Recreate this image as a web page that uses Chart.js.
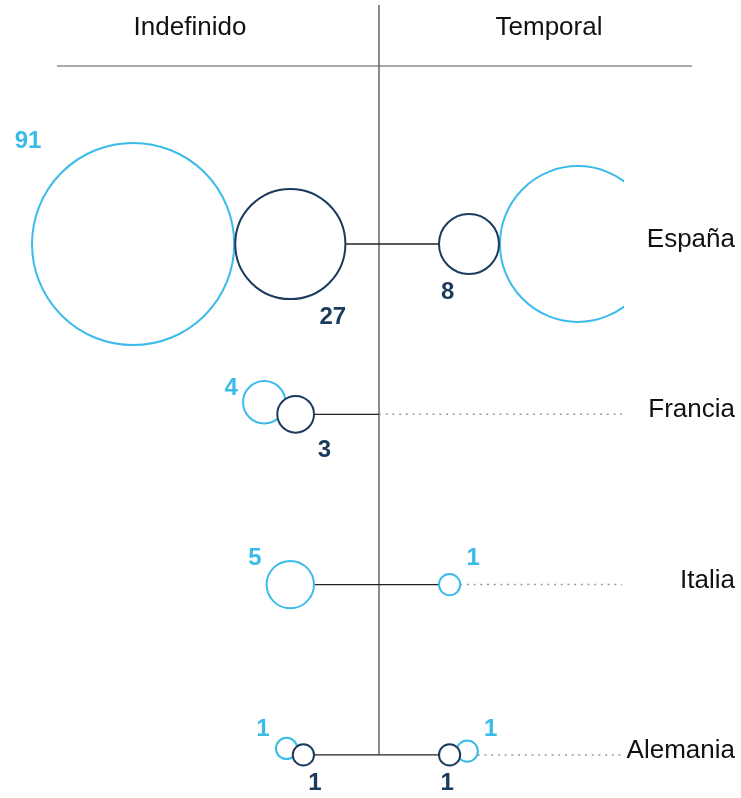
<!DOCTYPE html>
<html>
<head>
<meta charset="utf-8">
<script src="https://cdn.jsdelivr.net/npm/chart.js@4.4.1/dist/chart.umd.min.js"></script>
<style>
  html, body { margin: 0; padding: 0; background: #fff; }
  #wrap { width: 741px; height: 798px; }
</style>
</head>
<body>
<div id="wrap"><canvas id="chart" width="741" height="798"></canvas></div>
<script>
// ===============================
// Data
// ===============================
const paises = ["España", "Francia", "Italia", "Alemania"];
const columnas = ["Indefinido", "Temporal"];
const indefinidoClaro = [91, 4, 5, 1];
const indefinidoOscuro = [27, 3, 0, 1];
const temporalClaro = [54, 0, 1, 1];
const temporalOscuro = [8, 0, 0, 1];

// ===============================
// Layout / style
// ===============================
const CLARO = "#3bbbea";
const OSCURO = "#1b3a5c";
const W = 741, H = 798;
const CENTRO = 379;      // divider position
const FILA0 = 244;       // first row
const PASO = 170.3;      // row spacing
const K = 10.6;          // bubble radius per sqrt(value)
const HUECO_IZQ = 65, HUECO_DER = 60;
const ESPACIO_IZQ = 346; // room from divider to left margin
const FIN_PUNTOS = 243;  // dotted guide end (from divider)
const CORTE = 624;       // right side is cut here
const FUENTE = '"Liberation Sans", Arial, Helvetica, sans-serif';

const radio = v => K * Math.sqrt(v);

function colocar(claro, oscuro, fila, dir, hueco, espacio, angulo) {
	const rc = claro ? radio(claro) : 0;
	const ro = oscuro ? radio(oscuro) : 0;
	if (!rc && !ro) return null;
	let g = hueco;
	if (espacio) g = Math.min(hueco, espacio - 2 * rc - 2 * ro);
	const res = { burbujas: [], interior: dir * g, exterior: 0 };
	let xo = null;
	let ext = 0;
	if (ro) {
		xo = dir * (g + ro);
		res.burbujas.push({ x: xo, y: fila, r: ro, v: oscuro, tipo: "o", dir: dir, fila: fila, par: !!rc });
		ext = Math.abs(xo) + ro;
	}
	if (rc) {
		let xc, yc = fila;
		if (ro) {
			const suma = rc + ro;
			if (suma < 50) {
				const d = 0.85 * suma, a = angulo * Math.PI / 180;
				xc = xo + dir * d * Math.cos(a);
				yc = fila - d * Math.sin(a) / PASO;
			} else {
				xc = xo + dir * (suma + 1);
			}
		} else {
			xc = dir * (g + rc);
		}
		res.burbujas.push({ x: xc, y: yc, r: rc, v: claro, tipo: "c", dir: dir, fila: fila });
		ext = Math.max(ext, Math.abs(xc) + rc);
	}
	res.exterior = dir * ext;
	return res;
}

const burbujasClaras = [];
const burbujasOscuras = [];
const lineaSolida = [];
const lineaPuntos = [];

paises.forEach((p, i) => {
	const izq = colocar(indefinidoClaro[i], indefinidoOscuro[i], i, -1, HUECO_IZQ, ESPACIO_IZQ, 21);
	const der = colocar(temporalClaro[i], temporalOscuro[i], i, 1, HUECO_DER, null, 12);
	[izq, der].forEach(lado => {
		if (!lado) return;
		lado.burbujas.forEach(b => (b.tipo === "c" ? burbujasClaras : burbujasOscuras).push(b));
	});
	// solid connector
	lineaSolida.push({ x: izq ? izq.interior : 0, y: i });
	lineaSolida.push({ x: der ? der.interior : 0, y: i });
	lineaSolida.push({ x: 0, y: null });
	// dotted guide to the country name
	const desde = der ? der.exterior : 0;
	if (desde < FIN_PUNTOS) {
		lineaPuntos.push({ x: desde, y: i });
		lineaPuntos.push({ x: FIN_PUNTOS, y: i });
		lineaPuntos.push({ x: 0, y: null });
	}
});

// ===============================
// Plugins: frame and labels
// ===============================
const marco = {
	id: "marco",
	beforeDatasetsDraw(chart) {
		const { ctx, scales: { x, y } } = chart;
		const xc = x.getPixelForValue(0);
		ctx.save();
		ctx.strokeStyle = "#8c8c8c";
		ctx.lineWidth = 2;
		ctx.beginPath();
		ctx.moveTo(xc, 5);
		ctx.lineTo(xc, y.getPixelForValue(paises.length - 1));
		ctx.stroke();
		ctx.strokeStyle = "#555";
		ctx.lineWidth = 1.2;
		ctx.beginPath();
		ctx.moveTo(57, 66);
		ctx.lineTo(692, 66);
		ctx.stroke();
		ctx.fillStyle = "#111";
		ctx.font = "26px " + FUENTE;
		ctx.textAlign = "center";
		ctx.textBaseline = "middle";
		ctx.fillText(columnas[0], x.getPixelForValue(-189), 28);
		ctx.fillText(columnas[1], x.getPixelForValue(170), 28);
		ctx.restore();
	}
};

const etiquetas = {
	id: "etiquetas",
	afterDatasetsDraw(chart) {
		const { ctx, scales: { x, y } } = chart;
		ctx.save();
		ctx.textBaseline = "middle";
		ctx.textAlign = "center";
		ctx.font = "bold 24px " + FUENTE;
		const todas = burbujasClaras.concat(burbujasOscuras);
		todas.forEach(b => {
			const cx = x.getPixelForValue(b.x);
			const cy = y.getPixelForValue(b.y);
			const fy = y.getPixelForValue(b.fila);
			let lx, ly;
			if (b.tipo === "c") {
				lx = cx + b.dir * (0.9 * b.r + 14);
				ly = fy - Math.max(b.r + 2, 26);
				ctx.fillStyle = CLARO;
			} else {
				if (b.dir < 0) {
					lx = cx + 0.7 * b.r + (b.par && b.r > 15 && b.r < 30 ? 16 : 4);
				} else {
					lx = cx - 0.97 * (b.r - 8);
				}
				ly = cy + b.r + 18;
				ctx.fillStyle = OSCURO;
			}
			ctx.save();
			if (b.dir > 0) {
				ctx.beginPath();
				ctx.rect(0, 0, CORTE, H);
				ctx.clip();
			}
			ctx.fillText(String(b.v), lx, ly);
			ctx.restore();
		});
		// country names
		ctx.font = "26px " + FUENTE;
		ctx.fillStyle = "#111";
		ctx.textAlign = "right";
		paises.forEach((p, i) => {
			ctx.fillText(p, 735, y.getPixelForValue(i) - 4);
		});
		ctx.restore();
	}
};

// ===============================
// Chart
// ===============================
new Chart(document.getElementById("chart"), {
	type: "bubble",
	data: {
		datasets: [
			{
				label: "Oscuro",
				data: burbujasOscuras,
				backgroundColor: "#ffffff",
				borderColor: OSCURO,
				borderWidth: 2,
				hoverBorderWidth: 2
			},
			{
				label: "Claro",
				data: burbujasClaras,
				backgroundColor: "rgba(255,255,255,0)",
				borderColor: CLARO,
				borderWidth: 2,
				hoverBorderWidth: 2,
				clip: { left: 10, top: 10, right: CORTE - W, bottom: 10 }
			},
			{
				type: "line",
				label: "Conector",
				data: lineaSolida,
				borderColor: "#222",
				borderWidth: 1.3,
				pointRadius: 0,
				spanGaps: false,
				fill: false
			},
			{
				type: "line",
				label: "Guía",
				data: lineaPuntos,
				borderColor: "#9a9a9a",
				borderWidth: 1.5,
				borderDash: [2, 4.7],
				pointRadius: 0,
				spanGaps: false,
				fill: false
			}
		]
	},
	options: {
		responsive: false,
		devicePixelRatio: 1,
		animation: false,
		events: [],
		layout: { padding: 0, autoPadding: false },
		plugins: {
			legend: { display: false },
			tooltip: { enabled: false }
		},
		scales: {
			x: { type: "linear", display: false, min: -CENTRO, max: W - CENTRO },
			y: { type: "linear", display: false, reverse: true, min: -FILA0 / PASO, max: (H - FILA0) / PASO }
		}
	},
	plugins: [marco, etiquetas]
});
</script>
</body>
</html>
